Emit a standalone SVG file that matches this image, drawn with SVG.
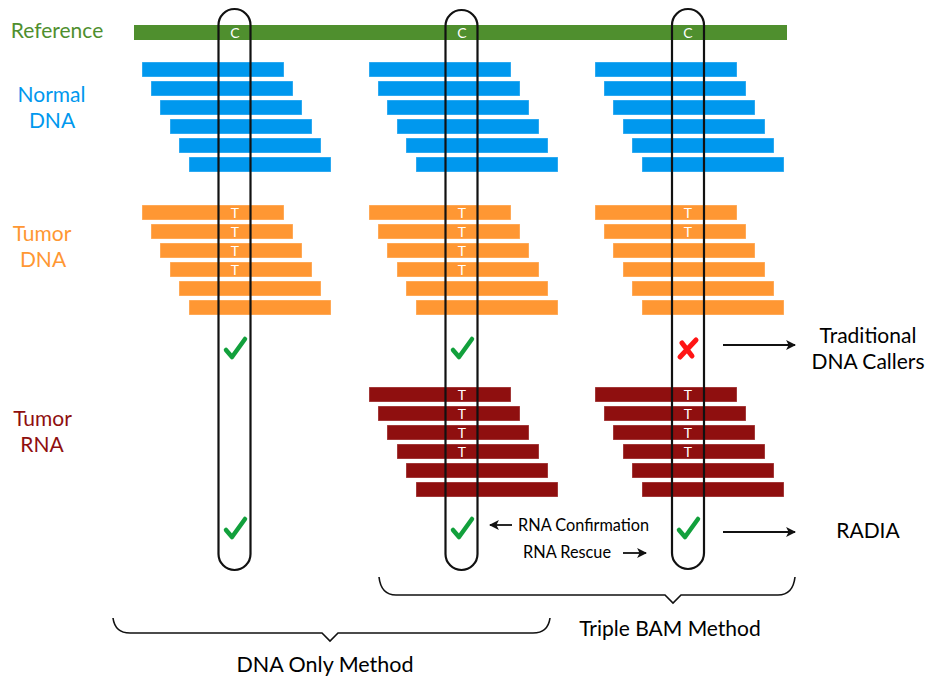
<svg xmlns="http://www.w3.org/2000/svg" width="930" height="679" viewBox="0 0 930 679">
  <style>
    text { font-family: Lato, "Liberation Sans", sans-serif; }
    .lbl { font-size: 21px; text-anchor: middle; }
    .out { font-size: 21px; text-anchor: middle; }
    .ref { fill: #4f8f2e; }
    .nrm { fill: #0098ee; }
    .tdn { fill: #ff9733; }
    .rna { fill: #8f0f0f; }
    .bar { stroke-width: 1; stroke-opacity: 0.35; stroke: #ffffff; }
    .base { fill: #ffffff; font-size: 14px; text-anchor: middle; }
    .cap { fill: none; stroke: #111; stroke-width: 2.2; }
    .conn { stroke: #111; stroke-width: 1.8; fill: none; }
    .brace { stroke: #111; stroke-width: 1.6; fill: none; }
    .tick { fill: none; stroke: #12a03c; stroke-width: 4.5; stroke-linecap: round; stroke-linejoin: round; }
    .cross { fill: none; stroke: #ff1414; stroke-width: 5; stroke-linecap: round; }
  </style>
  <defs>
    <marker id="ah" viewBox="0 0 10 10" refX="9" refY="5" markerWidth="5.5" markerHeight="5.5" orient="auto">
      <path d="M0,0 L10,5 L0,10 L2.5,5 Z" fill="#111"/>
    </marker>
    <!-- six staggered reads, positions relative to the column origin -->
    <g id="reads">
      <rect x="142" y="0" width="142" height="15"/>
      <rect x="151" y="19" width="142" height="15"/>
      <rect x="160" y="38" width="142" height="15"/>
      <rect x="170" y="57" width="142" height="15"/>
      <rect x="179" y="76" width="142" height="15"/>
      <rect x="189" y="95" width="142" height="15"/>
    </g>
    <path id="tickmark" class="tick" d="M-9,2 L-3,9 L10,-9"/>
  </defs>

  <!-- row labels -->
  <g id="row-labels">
    <text class="lbl ref" x="57" y="38">Reference</text>
    <text class="lbl nrm" x="51.5" y="102">Normal</text>
    <text class="lbl nrm" x="52" y="128">DNA</text>
    <text class="lbl tdn" x="42" y="241">Tumor</text>
    <text class="lbl tdn" x="43" y="267">DNA</text>
    <text class="lbl rna" x="42.5" y="426">Tumor</text>
    <text class="lbl rna" x="42" y="452">RNA</text>
  </g>

  <!-- reference sequence -->
  <g id="reference">
    <rect class="ref" x="134" y="25" width="653" height="15"/>
    <text class="base" x="235" y="38">C</text>
    <text class="base" x="462" y="38">C</text>
    <text class="base" x="688" y="38">C</text>
  </g>

  <!-- normal DNA reads -->
  <g id="normal-dna" class="nrm bar">
    <use href="#reads" transform="translate(0,62)"/>
    <use href="#reads" transform="translate(227,62)"/>
    <use href="#reads" transform="translate(453,62)"/>
  </g>

  <!-- tumor DNA reads -->
  <g id="tumor-dna">
    <g class="tdn bar">
      <use href="#reads" transform="translate(0,205)"/>
      <use href="#reads" transform="translate(227,205)"/>
      <use href="#reads" transform="translate(453,205)"/>
    </g>
    <text class="base" x="235" y="218">T</text>
    <text class="base" x="235" y="237">T</text>
    <text class="base" x="235" y="256">T</text>
    <text class="base" x="235" y="275">T</text>
    <text class="base" x="462" y="218">T</text>
    <text class="base" x="462" y="237">T</text>
    <text class="base" x="462" y="256">T</text>
    <text class="base" x="462" y="275">T</text>
    <text class="base" x="688" y="218">T</text>
    <text class="base" x="688" y="237">T</text>
  </g>

  <!-- tumor RNA reads -->
  <g id="tumor-rna">
    <g class="rna bar">
      <use href="#reads" transform="translate(227,387)"/>
      <use href="#reads" transform="translate(453,387)"/>
    </g>
    <text class="base" x="462" y="400">T</text>
    <text class="base" x="462" y="419">T</text>
    <text class="base" x="462" y="438">T</text>
    <text class="base" x="462" y="457">T</text>
    <text class="base" x="688" y="400">T</text>
    <text class="base" x="688" y="419">T</text>
    <text class="base" x="688" y="438">T</text>
    <text class="base" x="688" y="457">T</text>
  </g>

  <!-- position columns -->
  <g id="column-dna-only">
    <rect class="cap" x="218.5" y="9" width="32" height="561" rx="16"/>
    <use href="#tickmark" transform="translate(235,348)"/>
    <use href="#tickmark" transform="translate(235,528)"/>
  </g>
  <g id="column-confirmation">
    <rect class="cap" x="445.5" y="10" width="32" height="560" rx="16"/>
    <use href="#tickmark" transform="translate(462,348)"/>
    <use href="#tickmark" transform="translate(462,528)"/>
  </g>
  <g id="column-rescue">
    <rect class="cap" x="672" y="9" width="32" height="560" rx="16"/>
    <path class="cross" d="M680,357 L696,340 M682,343 L692,356"/>
    <use href="#tickmark" transform="translate(688,528)"/>
  </g>

  <!-- outcome labels -->
  <g id="outcome-dna-callers">
    <text class="out" x="868" y="343">Traditional</text>
    <text class="out" x="868" y="369">DNA Callers</text>
  </g>
  <g id="outcome-radia">
    <text class="out" x="868" y="538">RADIA</text>
  </g>
  <g id="rna-notes">
    <text x="518" y="531" font-size="16.3">RNA Confirmation</text>
    <text x="523" y="558" font-size="16.3">RNA Rescue</text>
  </g>

  <!-- connectors -->
  <g id="connectors">
    <line class="conn" x1="723" y1="345" x2="795" y2="345" marker-end="url(#ah)"/>
    <line class="conn" x1="723" y1="532" x2="795" y2="532" marker-end="url(#ah)"/>
    <line class="conn" x1="512" y1="525" x2="490" y2="525" marker-end="url(#ah)"/>
    <line class="conn" x1="623" y1="553" x2="646" y2="553" marker-end="url(#ah)"/>
  </g>

  <!-- method braces -->
  <g id="brace-triple-bam">
    <path class="brace" d="M379,577 Q381,595 396,595 L665,595 L673,603 L681,595 L778,595 Q793,595 795,577"/>
    <text x="670" y="636" font-size="21" text-anchor="middle">Triple BAM Method</text>
  </g>
  <g id="brace-dna-only">
    <path class="brace" d="M113,618 Q115,633 130,633 L322,633 L330,641 L338,633 L533,633 Q548,633 550,618"/>
    <text x="325" y="672" font-size="21.5" text-anchor="middle">DNA Only Method</text>
  </g>
</svg>
